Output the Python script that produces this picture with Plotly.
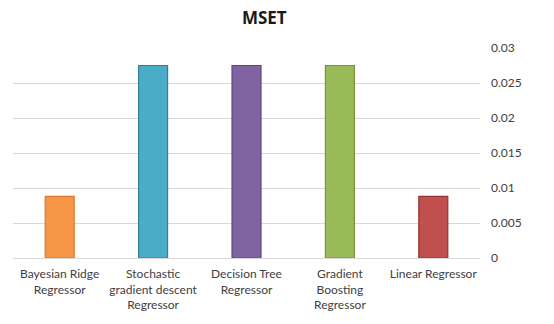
import plotly.graph_objects as go

# Mean squared error per regression model
models = [
    "Bayesian Ridge<br>Regressor",
    "Stochastic<br>gradient descent<br>Regressor",
    "Decision Tree<br>Regressor",
    "Gradient<br>Boosting<br>Regressor",
    "Linear Regressor",
]
mse = [0.0088, 0.0275, 0.0275, 0.0275, 0.0088]
y_ticks = [0, 0.005, 0.01, 0.015, 0.02, 0.025, 0.03]
y_tick_text = ["0", "0.005", "0.01", "0.015", "0.02", "0.025", "0.03"]

fill_colors = ["#F79646", "#4BACC6", "#8064A2", "#9BBB59", "#C0504D"]
edge_colors = ["#D9772F", "#2F8198", "#5B4580", "#76953A", "#96322F"]

fig = go.Figure(
    go.Bar(
        x=models,
        y=mse,
        marker=dict(color=fill_colors, line=dict(color=edge_colors, width=1.2)),
    )
)

fig.update_layout(
    width=554,
    height=324,
    margin=dict(l=13, r=74, t=48, b=64),
    paper_bgcolor="white",
    plot_bgcolor="white",
    bargap=0.69,
    showlegend=False,
    font=dict(family="Lato, Open Sans, sans-serif", size=12, color="#404040"),
    title=dict(
        text="<b>MSET</b>",
        x=0.477,
        xref="container",
        xanchor="center",
        y=0.945,
        yanchor="middle",
        font=dict(family="Open Sans, sans-serif", size=17, color="#1a1a1a"),
    ),
)

fig.update_xaxes(
    showgrid=False,
    showline=False,
    ticks="",
    tickangle=0,
    ticklabelstandoff=7,
    tickfont=dict(size=12, color="#404040"),
)

fig.update_yaxes(
    side="right",
    range=[0, 0.03],
    tickvals=y_ticks,
    ticktext=y_tick_text,
    showgrid=True,
    gridcolor="#D9D9D9",
    gridwidth=1,
    zeroline=True,
    zerolinecolor="#D9D9D9",
    zerolinewidth=1,
    showline=False,
    ticks="",
    ticklabelstandoff=10,
    tickfont=dict(size=12, color="#404040"),
)

fig.write_html("out.html")
